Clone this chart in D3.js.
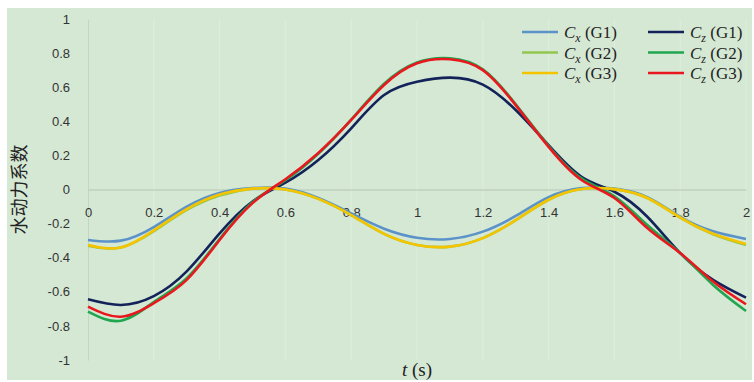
<!DOCTYPE html>
<html>
<head>
<meta charset="utf-8">
<script src="https://cdn.jsdelivr.net/npm/d3@7"></script>
<style>
  body { margin: 0; background: #ffffff; }
  svg { display: block; }
</style>
</head>
<body>
<div id="chart"></div>
<script>
// time values (s)
const times = [0, 0.1, 0.2, 0.3, 0.4, 0.5, 0.6, 0.7, 0.8, 0.9, 1.0,
               1.1, 1.2, 1.3, 1.4, 1.5, 1.6, 1.7, 1.8, 1.9, 2.0];

// series values
const cxG1 = [-0.296, -0.30, -0.22, -0.10, -0.02, 0.008, 0.005, -0.05, -0.14, -0.23, -0.283,
              -0.29, -0.247, -0.155, -0.045, 0.008, 0.005, -0.045, -0.16, -0.245, -0.29];
const czG1 = [-0.644, -0.677, -0.625, -0.48, -0.257, -0.07, 0.04, 0.173, 0.359, 0.554, 0.632,
              0.656, 0.615, 0.466, 0.26, 0.075, -0.013, -0.16, -0.373, -0.53, -0.634];
const cxG2 = [-0.33, -0.34, -0.245, -0.12, -0.035, 0.005, 0.0, -0.055, -0.15, -0.26, -0.325,
              -0.335, -0.285, -0.18, -0.06, 0.003, 0.002, -0.05, -0.165, -0.262, -0.325];
const czG2 = [-0.716, -0.77, -0.66, -0.52, -0.29, -0.075, 0.055, 0.21, 0.41, 0.62, 0.745,
              0.77, 0.705, 0.50, 0.255, 0.065, -0.04, -0.208, -0.373, -0.56, -0.713];
const cxG3 = [-0.325, -0.34, -0.24, -0.115, -0.03, 0.005, 0.0, -0.055, -0.15, -0.26, -0.325,
              -0.335, -0.285, -0.18, -0.06, 0.003, 0.002, -0.05, -0.165, -0.26, -0.32];
const czG3 = [-0.687, -0.746, -0.667, -0.53, -0.296, -0.08, 0.06, 0.214, 0.408, 0.613, 0.74,
              0.764, 0.70, 0.495, 0.25, 0.056, -0.05, -0.226, -0.373, -0.54, -0.673];

const xTicks = [0, 0.2, 0.4, 0.6, 0.8, 1, 1.2, 1.4, 1.6, 1.8, 2];
const yTicks = [-1, -0.8, -0.6, -0.4, -0.2, 0, 0.2, 0.4, 0.6, 0.8, 1];

// series in excel drawing order (legend is row-major)
const seriesNames = ["Cx G1", "Cz G1", "Cx G2", "Cz G2", "Cx G3", "Cz G3"];
const seriesValues = [cxG1, czG1, cxG2, czG2, cxG3, czG3];
const seriesColors = ["#5b93c9", "#13235a", "#92c64e", "#1fa64f", "#f5c400", "#e8181e"];

const width = 754;
const height = 382;
const margin = {left: 88, right: 8, top: 19, bottom: 22};

const svg = d3.select("#chart")
  .append("svg")
  .attr("width", width)
  .attr("height", height);

// green panel
svg.append("rect")
  .attr("x", 7)
  .attr("y", 8)
  .attr("width", 745)
  .attr("height", 372)
  .attr("fill", "#d5e8d4");

const xScale = d3.scaleLinear()
  .domain([0, 2])
  .range([margin.left, width - margin.right]);

const yScale = d3.scaleLinear()
  .domain([-1, 1])
  .range([height - margin.bottom, margin.top]);

// plain hyphen minus like the original
const fmt = d => String(+d.toFixed(1));

// faint vertical gridlines
svg.append("g")
  .selectAll("line")
  .data(xTicks.slice(1))
  .enter()
  .append("line")
    .attr("x1", d => xScale(d))
    .attr("x2", d => xScale(d))
    .attr("y1", yScale(1))
    .attr("y2", yScale(-1))
    .attr("stroke", "#ddefdc")
    .attr("stroke-width", 1);

// y axis
const yAxis = svg.append("g")
  .attr("transform", `translate(${margin.left},0)`)
  .call(d3.axisLeft(yScale).tickValues(yTicks).tickSize(0).tickPadding(18).tickFormat(fmt));
yAxis.select(".domain").attr("stroke", "#c3d6c2");
yAxis.selectAll("text")
  .attr("font-family", "Liberation Sans, Arial, sans-serif")
  .attr("font-size", "13px")
  .attr("fill", "#333");

// x axis crossing at zero
const xAxis = svg.append("g")
  .attr("transform", `translate(0,${yScale(0)})`)
  .call(d3.axisBottom(xScale).tickValues(xTicks).tickSize(0).tickPadding(18).tickFormat(fmt));
xAxis.select(".domain").attr("stroke", "#b4c6b3");
xAxis.selectAll("text")
  .attr("font-family", "Liberation Sans, Arial, sans-serif")
  .attr("font-size", "13px")
  .attr("fill", "#333");

// lines
const line = d3.line()
  .x((d, i) => xScale(times[i]))
  .y(d => yScale(d))
  .curve(d3.curveNatural);

svg.append("g")
  .selectAll("path")
  .data(seriesValues)
  .enter()
  .append("path")
    .attr("d", d => line(d))
    .attr("fill", "none")
    .attr("stroke", (d, i) => seriesColors[i])
    .attr("stroke-width", 2.6)
    .attr("stroke-linejoin", "round");

// legend
const legend = svg.append("g");
seriesNames.forEach((name, i) => {
  const col = i % 2;
  const row = Math.floor(i / 2);
  const lx = 522 + col * 126;
  const ly = 32 + row * 20.5;
  legend.append("line")
    .attr("x1", lx).attr("x2", lx + 36)
    .attr("y1", ly).attr("y2", ly)
    .attr("stroke", seriesColors[i])
    .attr("stroke-width", 2.6);
  const txt = legend.append("text")
    .attr("x", lx + 42)
    .attr("y", ly + 6)
    .attr("font-family", "Liberation Serif, Times New Roman, serif")
    .attr("font-size", "17px")
    .attr("fill", "#222");
  txt.append("tspan").attr("font-style", "italic").text("C");
  txt.append("tspan").attr("font-style", "italic").attr("font-size", "12px")
    .attr("dy", 4).text(name[1]);
  txt.append("tspan").attr("dy", -4).text(" (" + name.split(" ")[1] + ")");
});

// axis titles
svg.append("text")
  .attr("transform", `translate(26,${yScale(0)}) rotate(-90)`)
  .attr("text-anchor", "middle")
  .attr("font-family", "Noto Sans CJK SC, sans-serif")
  .attr("font-size", "18px")
  .attr("fill", "#222")
  .text("水动力系数");

const xt = svg.append("text")
  .attr("x", xScale(1))
  .attr("y", 376)
  .attr("text-anchor", "middle")
  .attr("font-family", "Liberation Serif, Times New Roman, serif")
  .attr("font-size", "19px")
  .attr("fill", "#222");
xt.append("tspan").attr("font-style", "italic").text("t");
xt.append("tspan").text(" (s)");
</script>
</body>
</html>
